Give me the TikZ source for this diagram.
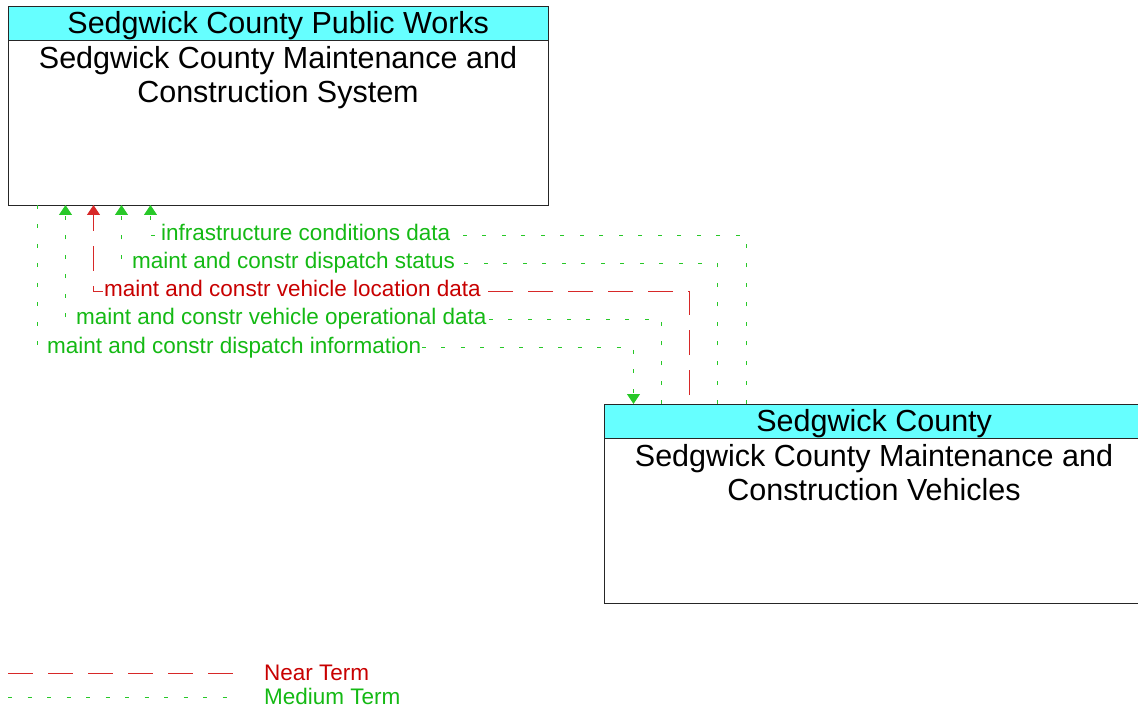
\documentclass[tikz,border=0pt]{standalone}
\usepackage{fontspec}
\setmainfont{Liberation Sans}
\usetikzlibrary{arrows.meta}
\definecolor{hdrcyan}{RGB}{102,255,255}
\definecolor{medgreen}{RGB}{20,185,20}
\definecolor{medline}{RGB}{40,200,40}
\definecolor{nearred}{RGB}{200,0,0}
\definecolor{nearline}{RGB}{215,40,40}
\begin{document}
\begin{tikzpicture}[x=1pt,y=-1pt,
  hdr/.style={draw=black!85, fill=hdrcyan, minimum width=540pt, minimum height=34pt, inner sep=0pt, text depth=0pt, font=\fontsize{30.5}{34}\selectfont},
  sysbox/.style={draw=black!85, fill=white, minimum width=540pt, minimum height=165pt, inner sep=0pt},
  systext/.style={align=center, inner sep=0pt, font=\fontsize{30.5}{34}\selectfont},
  flowlbl/.style={fill=white, inner xsep=1pt, inner ysep=1pt, anchor=base west, font=\fontsize{22.5}{26}\selectfont},
  medterm/.style={draw=medline, line width=1.2pt, dash pattern=on 4pt off 15.5pt},
  nearterm/.style={draw=nearline, line width=1.2pt, dash pattern=on 25pt off 15pt},
  flowtip/.style={-{Triangle[width=13pt,length=10pt]}}]
\useasboundingbox (0,0) rectangle (1138,711);
\node[sysbox, anchor=north west] (pwbox) at (8,40) {};
\node[hdr, anchor=south west] (pwhead) at (8,40) {Sedgwick County Public Works};
\node[systext, anchor=north] (pwname) at (278,46) {Sedgwick County Maintenance and\\Construction System};
\node[sysbox, anchor=north west] (vehbox) at (604,438) {};
\node[hdr, anchor=south west] (vehhead) at (604,438) {Sedgwick County};
\node[systext, anchor=north] (vehname) at (874,444) {Sedgwick County Maintenance and\\Construction Vehicles};
\coordinate (infraT) at (150.5,205);
\coordinate (infraB) at (746.5,404);
\coordinate (statusT) at (121.5,205);
\coordinate (statusB) at (717.5,404);
\coordinate (locT) at (93.5,205);
\coordinate (locB) at (689.5,404);
\coordinate (operT) at (65.5,205);
\coordinate (operB) at (661.5,404);
\coordinate (infoT) at (37.5,205);
\coordinate (infoB) at (633.5,404);
\draw[medterm, flowtip] (infraB) -- (746.5,235.5) -- (150.5,235.5) -- (infraT);
\draw[medterm, flowtip] (statusB) -- (717.5,263.5) -- (121.5,263.5) -- (statusT);
\draw[nearterm, dash phase=31pt, flowtip] (locB) -- (689.5,291.5) -- (93.5,291.5) -- (locT);
\draw[medterm, flowtip] (operB) -- (661.5,319.5) -- (65.5,319.5) -- (operT);
\draw[medterm, flowtip] (infoT) -- (37.5,347.5) -- (633.5,347.5) -- (infoB);
\node[flowlbl, text=medgreen] (infralbl) at (160,241) {infrastructure conditions data};
\node[flowlbl, text=medgreen] (statuslbl) at (131,269) {maint and constr dispatch status};
\node[flowlbl, text=nearred] (loclbl) at (103,297) {maint and constr vehicle location data};
\node[flowlbl, text=medgreen] (operlbl) at (75,325) {maint and constr vehicle operational data};
\node[flowlbl, text=medgreen] (infolbl) at (46,353) {maint and constr dispatch information};
\coordinate (near0) at (8,673.5);
\coordinate (near1) at (235,673.5);
\coordinate (med0) at (8,697.5);
\coordinate (med1) at (235,697.5);
\draw[nearterm] (near0) -- (near1);
\draw[medterm] (med0) -- (med1);
\node[flowlbl, fill=none, text=nearred] (nearlbl) at (263,680) {Near Term};
\node[flowlbl, fill=none, text=medgreen] (medlbl) at (263,704) {Medium Term};
\end{tikzpicture}
\end{document}
